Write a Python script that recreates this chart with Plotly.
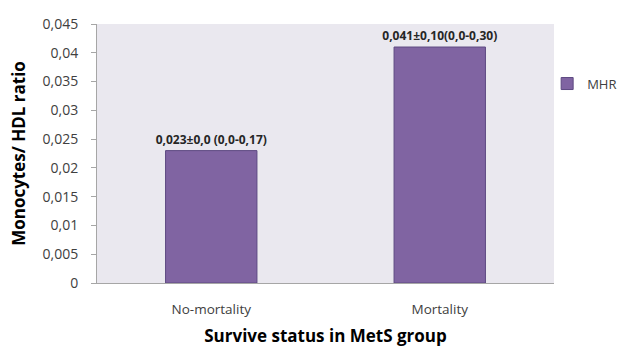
import plotly.graph_objects as go

categories = ["No-mortality", "Mortality"]
mhr_values = [0.023, 0.041]
value_labels = ["0,023±0,0 (0,0-0,17)", "0,041±0,10(0,0-0,30)"]
y_ticks = [0, 0.005, 0.01, 0.015, 0.02, 0.025, 0.03, 0.035, 0.04, 0.045]

fig = go.Figure()
fig.add_trace(go.Bar(
    x=categories,
    y=mhr_values,
    name="MHR",
    width=0.4,
    marker=dict(color="#8064A2", line=dict(color="#5E4A82", width=1)),
    text=["<b>" + t + "</b>" for t in value_labels],
    textposition="outside",
    constraintext="none",
    textfont=dict(family="Open Sans", size=12, color="#262626"),
    cliponaxis=False,
))

fig.update_layout(
    width=626, height=347,
    margin=dict(l=97, r=72, t=24, b=64, autoexpand=False),
    paper_bgcolor="white",
    plot_bgcolor="#EAE8EF",
    separators=",.",
    font=dict(family="Open Sans", color="#404040"),
    showlegend=True,
    legend=dict(x=0.985, y=0.77, xanchor="left", yanchor="middle",
                font=dict(size=13, color="#404040"), bgcolor="rgba(0,0,0,0)",
                itemwidth=30),
    bargap=0.6,
)
fig.update_xaxes(
    showline=True, linecolor="#A6A6A6", linewidth=1,
    tickfont=dict(size=13.5, color="#404040"),
    ticks="outside", ticklen=0, ticklabelstandoff=14,
    title=dict(text="<b>Survive status in MetS group</b>",
               font=dict(size=17, color="#000000"), standoff=18),
)
fig.update_yaxes(
    range=[0, 0.045], tickvals=y_ticks,
    showgrid=False, zeroline=False,
    showline=True, linecolor="#A6A6A6", linewidth=1,
    ticks="outside", ticklen=5, tickcolor="#A6A6A6",
    ticklabelstandoff=10,
    tickfont=dict(size=14, color="#404040"),
    title=dict(text="<b>Monocytes/ HDL ratio</b>",
               font=dict(size=17, color="#000000"), standoff=12),
)

fig.write_html("out.html")
